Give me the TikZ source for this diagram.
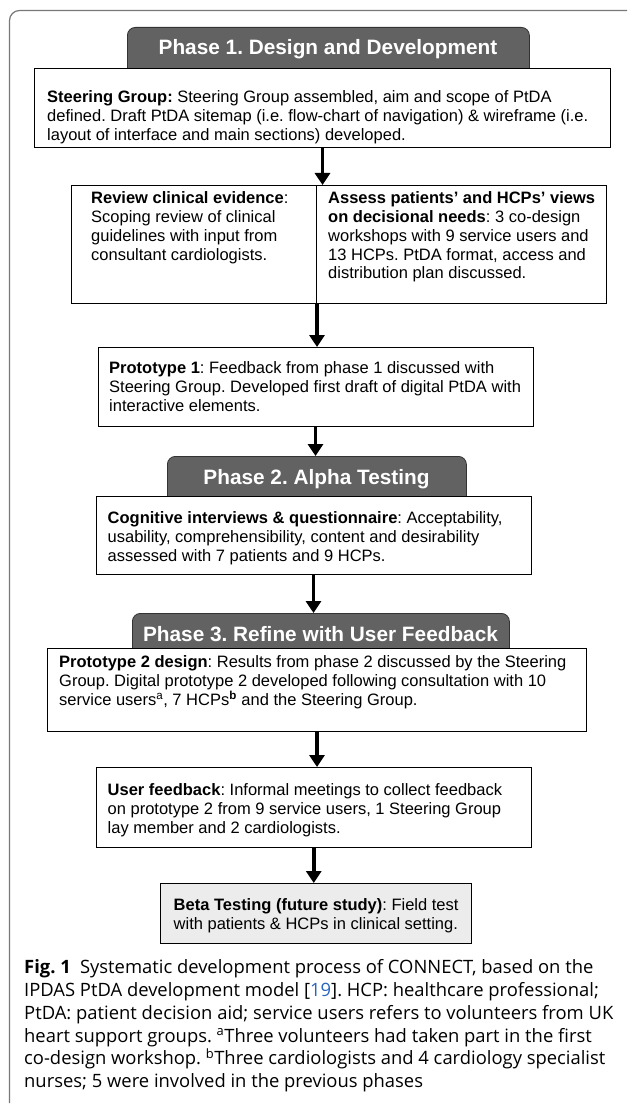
\documentclass[tikz,border=0pt]{standalone}
\usepackage{fontspec}
\setmainfont{Liberation Sans}
\newfontfamily\capfont{Open Sans}
\usetikzlibrary{arrows.meta}
\definecolor{hdrgray}{RGB}{98,98,98}
\definecolor{framegray}{RGB}{120,120,120}
\definecolor{betagray}{RGB}{236,236,236}
\definecolor{linkblue}{RGB}{40,100,190}
\newcommand\boxfont{\fontsize{16.5pt}{18.8pt}\selectfont}
\newcommand\hdrfont{\fontsize{20.8pt}{24pt}\selectfont\bfseries}
\newcommand\capsize{\fontsize{18.4pt}{22.8pt}\selectfont}
\newcommand\fst{\rule{0pt}{13pt}}
\newcommand\cst{\rule{0pt}{15pt}}
\frenchspacing
\begin{document}
\begin{tikzpicture}[x=1pt,y=-1pt,
  boxsh/.style={draw=black,line width=1pt,fill=white,anchor=north west,inner sep=0pt},
  hdr/.style={draw=black!80,line width=0.8pt,fill=hdrgray,rounded corners=8pt,anchor=north west,inner sep=0pt},
  btxt/.style={anchor=north west,inner sep=0pt,align=left,font=\boxfont},
  htxt/.style={anchor=base,inner sep=0pt,text=white,font=\hdrfont},
  arr/.style={line width=3.5pt,-{Triangle[width=15pt,length=12pt]}}
]
\useasboundingbox (0,0) rectangle (627,1115);
\clip (0,0) rectangle (627,1115);
\draw[framegray,line width=1.2pt,rounded corners=10pt] (660,10.5) -- (9.5,10.5) -- (9.5,1103);

% Phase 1
\node[hdr,minimum width=402pt,minimum height=50pt] (hd1) at (127,27) {};
\node[boxsh,minimum width=576pt,minimum height=79pt] (steer) at (34,68) {};
\node[htxt] (hd1t) at (328,55) {Phase 1. Design and Development};
\node[btxt] (steert) at (47,89.5) {\fst\textbf{Steering Group:} Steering Group assembled, aim and scope of PtDA\\
defined. Draft PtDA sitemap (i.e. flow-chart of navigation) \& wireframe (i.e.\\
layout of interface and main sections) developed.};

\node[boxsh,minimum width=245pt,minimum height=118pt] (rev) at (71,185) {};
\node[boxsh,minimum width=290pt,minimum height=118pt] (ass) at (316,185) {};
\node[btxt] (revt) at (91,190.5) {\fst\textbf{Review clinical evidence}:\\
Scoping review of clinical\\
guidelines with input from\\
consultant cardiologists.};
\node[btxt] (asst) at (328,190.5) {\fst\textbf{Assess patients’ and HCPs’ views}\\
\textbf{on decisional needs}: 3 co-design\\
workshops with 9 service users and\\
13 HCPs. PtDA format, access and\\
distribution plan discussed.};

\node[boxsh,minimum width=435pt,minimum height=79pt] (p1) at (97.5,347) {};
\node[btxt] (p1t) at (109,360.5) {\fst\textbf{Prototype 1}: Feedback from phase 1 discussed with\\
Steering Group. Developed first draft of digital PtDA with\\
interactive elements.};

% Phase 2
\node[hdr,minimum width=299pt,minimum height=50pt] (hd2) at (167,456) {};
\node[boxsh,minimum width=435pt,minimum height=78pt] (cog) at (95.5,496) {};
\node[htxt] (hd2t) at (316.5,484) {Phase 2. Alpha Testing};
\node[btxt] (cogt) at (107.5,510.5) {\fst\textbf{Cognitive interviews \& questionnaire}: Acceptability,\\
usability, comprehensibility, content and desirability\\
assessed with 7 patients and 9 HCPs.};

% Phase 3
\node[hdr,minimum width=377pt,minimum height=45pt] (hd3) at (132,613) {};
\node[boxsh,minimum width=539pt,minimum height=83pt] (p2) at (47,648) {};
\node[htxt] (hd3t) at (320.5,641) {Phase 3. Refine with User Feedback};
\node[btxt] (p2t) at (59,654.5) {\fst\textbf{Prototype 2 design}: Results from phase 2 discussed by the Steering\\
Group. Digital prototype 2 developed following consultation with 10\\
service users\textsuperscript{a}, 7 HCPs\textsuperscript{\textbf{b}} and the Steering Group.};

\node[boxsh,minimum width=435.5pt,minimum height=80pt] (uf) at (95.5,767) {};
\node[btxt] (uft) at (107.5,782.5) {\fst\textbf{User feedback}: Informal meetings to collect feedback\\
on prototype 2 from 9 service users, 1 Steering Group\\
lay member and 2 cardiologists.};

\node[boxsh,fill=betagray,minimum width=311pt,minimum height=60pt] (beta) at (160,883) {};
\node[btxt] (betat) at (173.5,897.5) {\fst\textbf{Beta Testing (future study)}: Field test\\
with patients \& HCPs in clinical setting.};

% connectors
\draw[arr] (steer.south) -- (steer.south |- rev.north);
\draw[arr] (rev.south east) -- (rev.south east |- p1.north);
\draw[arr] (p1.south) -- (p1.south |- hd2.north);
\draw[arr] (cog.south) -- (cog.south |- hd3.north);
\draw[arr] (p2.south) -- (p2.south |- uf.north);
\draw[arr] (uf.south) -- (uf.south |- beta.north);

% caption
\node[anchor=north west,inner sep=0pt,align=left,font=\capfont\capsize] (cap) at (24,958.5) {\cst\textbf{Fig. 1}\hspace{0.5em}Systematic development process of CONNECT, based on the\\
IPDAS PtDA development model [{\color{linkblue}19}]. HCP: healthcare professional;\\
PtDA: patient decision aid; service users refers to volunteers from UK\\
heart support groups. \textsuperscript{a}Three volunteers had taken part in the first\\
co-design workshop. \textsuperscript{b}Three cardiologists and 4 cardiology specialist\\
nurses; 5 were involved in the previous phases};
\end{tikzpicture}
\end{document}
